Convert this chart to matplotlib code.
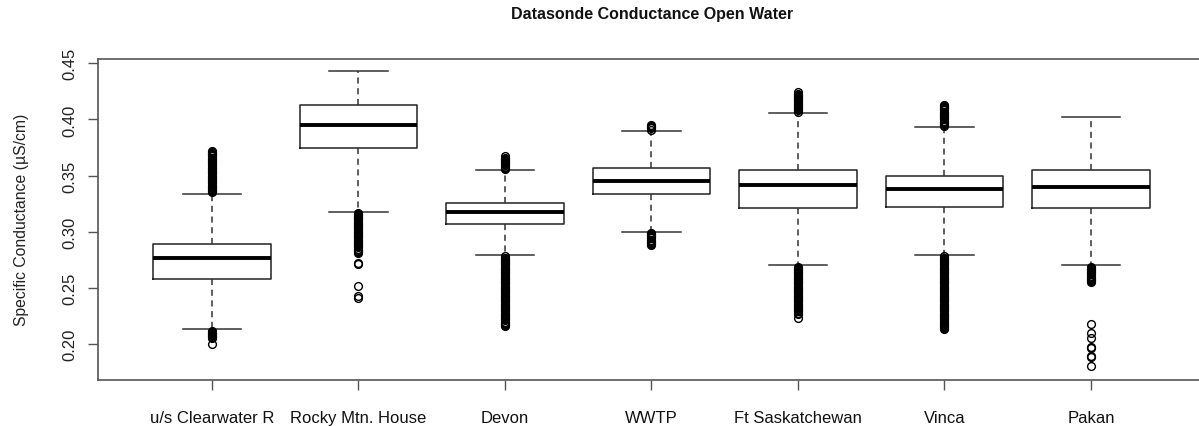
import matplotlib.pyplot as plt

plt.rcParams['font.family'] = ['Liberation Sans', 'DejaVu Sans']

sites = ["u/s Clearwater R", "Rocky Mtn. House", "Devon", "WWTP",
         "Ft Saskatchewan", "Vinca", "Pakan"]

# box statistics
whis_lo = [0.213, 0.318, 0.279, 0.300, 0.270, 0.279, 0.270]
q1 = [0.258, 0.375, 0.307, 0.334, 0.321, 0.322, 0.321]
med = [0.277, 0.395, 0.318, 0.345, 0.342, 0.338, 0.340]
q3 = [0.289, 0.413, 0.326, 0.357, 0.355, 0.350, 0.355]
whis_hi = [0.334, 0.443, 0.355, 0.390, 0.406, 0.393, 0.402]

# outliers (the dense runs are many overlapping points)
out_clearwater = [0.200, 0.205, 0.206, 0.207, 0.208, 0.209, 0.210, 0.211, 0.212,
                  0.335, 0.336, 0.337, 0.338, 0.339, 0.340, 0.341, 0.342, 0.343,
                  0.344, 0.345, 0.346, 0.347, 0.348, 0.349, 0.350, 0.351, 0.352,
                  0.353, 0.354, 0.355, 0.356, 0.357, 0.358, 0.359, 0.360, 0.361,
                  0.362, 0.363, 0.364, 0.365, 0.366, 0.367, 0.368, 0.369, 0.370,
                  0.371, 0.372]
out_rocky = [0.241, 0.243, 0.252, 0.271, 0.272,
             0.281, 0.282, 0.283, 0.284, 0.285, 0.286, 0.287, 0.288, 0.289,
             0.290, 0.291, 0.292, 0.293, 0.294, 0.295, 0.296, 0.297, 0.298,
             0.299, 0.300, 0.301, 0.302, 0.303, 0.304, 0.305, 0.306, 0.307,
             0.308, 0.309, 0.310, 0.311, 0.312, 0.313, 0.314, 0.315, 0.316,
             0.317]
out_devon = [0.216, 0.217, 0.218, 0.219, 0.220, 0.221, 0.222, 0.223, 0.224,
             0.225, 0.226, 0.227, 0.228, 0.229, 0.230, 0.231, 0.232, 0.233,
             0.234, 0.235, 0.236, 0.237, 0.238, 0.239, 0.240, 0.241, 0.242,
             0.243, 0.244, 0.245, 0.246, 0.247, 0.248, 0.249, 0.250, 0.251,
             0.252, 0.253, 0.254, 0.255, 0.256, 0.257, 0.258, 0.259, 0.260,
             0.261, 0.262, 0.263, 0.264, 0.265, 0.266, 0.267, 0.268, 0.269,
             0.270, 0.271, 0.272, 0.273, 0.274, 0.275, 0.276, 0.277, 0.278,
             0.356, 0.357, 0.358, 0.359, 0.360, 0.361, 0.362, 0.363, 0.364,
             0.365, 0.366, 0.367]
out_wwtp = [0.288, 0.289, 0.290, 0.291, 0.292, 0.293, 0.294, 0.295, 0.296,
            0.297, 0.298, 0.299, 0.391, 0.392, 0.393, 0.394, 0.395]
out_ftsask = [0.223, 0.227, 0.228, 0.229, 0.230, 0.231, 0.232, 0.233, 0.234,
              0.235, 0.236, 0.237, 0.238, 0.239, 0.240, 0.241, 0.242, 0.243,
              0.244, 0.245, 0.246, 0.247, 0.248, 0.249, 0.250, 0.251, 0.252,
              0.253, 0.254, 0.255, 0.256, 0.257, 0.258, 0.259, 0.260, 0.261,
              0.262, 0.263, 0.264, 0.265, 0.266, 0.267, 0.268, 0.269,
              0.407, 0.408, 0.409, 0.410, 0.411, 0.412, 0.413, 0.414, 0.415,
              0.416, 0.417, 0.418, 0.419, 0.420, 0.421, 0.422, 0.423, 0.424]
out_vinca = [0.213, 0.214, 0.215, 0.216, 0.217, 0.218, 0.219, 0.220, 0.221,
             0.222, 0.223, 0.224, 0.225, 0.226, 0.227, 0.228, 0.229, 0.230,
             0.231, 0.232, 0.233, 0.234, 0.235, 0.236, 0.237, 0.238, 0.239,
             0.240, 0.241, 0.242, 0.243, 0.244, 0.245, 0.246, 0.247, 0.248,
             0.249, 0.250, 0.251, 0.252, 0.253, 0.254, 0.255, 0.256, 0.257,
             0.258, 0.259, 0.260, 0.261, 0.262, 0.263, 0.264, 0.265, 0.266,
             0.267, 0.268, 0.269, 0.270, 0.271, 0.272, 0.273, 0.274, 0.275,
             0.276, 0.277, 0.278,
             0.394, 0.395, 0.396, 0.397, 0.398, 0.399, 0.400, 0.401, 0.402,
             0.403, 0.404, 0.405, 0.406, 0.407, 0.408, 0.409, 0.410, 0.411,
             0.412, 0.413]
out_pakan = [0.180, 0.188, 0.189, 0.196, 0.197, 0.205, 0.210, 0.218,
             0.255, 0.256, 0.257, 0.258, 0.259, 0.260, 0.261, 0.262, 0.263,
             0.264, 0.265, 0.266, 0.267, 0.268, 0.269]
outliers = [out_clearwater, out_rocky, out_devon, out_wwtp, out_ftsask,
            out_vinca, out_pakan]

yticks = [0.20, 0.25, 0.30, 0.35, 0.40, 0.45]

stats = []
for i in range(len(sites)):
    stats.append(dict(label=sites[i], whislo=whis_lo[i], q1=q1[i], med=med[i],
                      q3=q3[i], whishi=whis_hi[i], fliers=outliers[i]))

fig = plt.figure(figsize=(11.99, 4.27), dpi=100)
ax = fig.add_axes([0.0815, 0.1084, 0.9237, 0.751])

ax.bxp(stats, positions=range(1, len(sites) + 1), widths=0.8, capwidths=0.4,
       boxprops=dict(color='#222222', lw=1.1),
       medianprops=dict(color='black', lw=2.8, solid_capstyle='butt'),
       whiskerprops=dict(color='#333333', lw=1.1, linestyle=(0, (4, 3))),
       capprops=dict(color='#333333', lw=1.1),
       flierprops=dict(marker='o', markerfacecolor='none', markeredgecolor='black',
                       markersize=5.6, markeredgewidth=1.0))

ax.set_xlim(0.22, 7.78)
ax.set_ylim(0.1682, 0.4538)
ax.set_yticks(yticks)
ax.set_yticklabels(['%.2f' % t for t in yticks], rotation=90, va='center',
                   fontsize=12, color='#222222')
ax.tick_params(axis='x', length=7.5, width=1, color='#555555', pad=14,
               labelsize=12, labelcolor='#111111')
ax.tick_params(axis='y', length=7.5, width=1, color='#555555', pad=7)
for s in ax.spines.values():
    s.set_color('#555555')
    s.set_linewidth(1.2)

ax.set_ylabel('Specific Conductance (µS/cm)', fontsize=11.3, color='#222222')
ax.yaxis.set_label_coords(-0.062, 0.5)
fig.text(0.5435, 1 - 15 / 427, 'Datasonde Conductance Open Water',
         ha='center', va='center', fontsize=11.5, fontweight='bold', color='#111111')

fig.savefig('out.png', dpi=100)
